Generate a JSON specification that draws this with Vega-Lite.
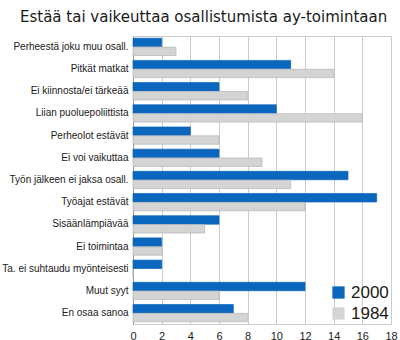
{
  "$schema": "https://vega.github.io/schema/vega-lite/v6.json",
  "autosize": {"type": "none"},
  "width": 258,
  "height": 288,
  "padding": {"left": 133, "top": 36, "right": 9, "bottom": 16},
  "background": "white",
  "title": {
    "text": "Estää tai vaikeuttaa osallistumista ay-toimintaan",
    "anchor": "start",
    "frame": "group",
    "dx": -113,
    "offset": 11,
    "font": "DejaVu Sans",
    "fontSize": 15,
    "fontWeight": "normal",
    "color": "#1a1a1a"
  },
  "data": {
    "values": [
      {"syy": "Perheestä joku muu osall.", "vuosi": "2000", "arvo": 2},
      {"syy": "Perheestä joku muu osall.", "vuosi": "1984", "arvo": 3},
      {"syy": "Pitkät matkat", "vuosi": "2000", "arvo": 11},
      {"syy": "Pitkät matkat", "vuosi": "1984", "arvo": 14},
      {"syy": "Ei kiinnosta/ei tärkeää", "vuosi": "2000", "arvo": 6},
      {"syy": "Ei kiinnosta/ei tärkeää", "vuosi": "1984", "arvo": 8},
      {"syy": "Liian puoluepoliittista", "vuosi": "2000", "arvo": 10},
      {"syy": "Liian puoluepoliittista", "vuosi": "1984", "arvo": 16},
      {"syy": "Perheolot estävät", "vuosi": "2000", "arvo": 4},
      {"syy": "Perheolot estävät", "vuosi": "1984", "arvo": 6},
      {"syy": "Ei voi vaikuttaa", "vuosi": "2000", "arvo": 6},
      {"syy": "Ei voi vaikuttaa", "vuosi": "1984", "arvo": 9},
      {"syy": "Työn jälkeen ei jaksa osall.", "vuosi": "2000", "arvo": 15},
      {"syy": "Työn jälkeen ei jaksa osall.", "vuosi": "1984", "arvo": 11},
      {"syy": "Työajat estävät", "vuosi": "2000", "arvo": 17},
      {"syy": "Työajat estävät", "vuosi": "1984", "arvo": 12},
      {"syy": "Sisäänlämpiävää", "vuosi": "2000", "arvo": 6},
      {"syy": "Sisäänlämpiävää", "vuosi": "1984", "arvo": 5},
      {"syy": "Ei toimintaa", "vuosi": "2000", "arvo": 2},
      {"syy": "Ei toimintaa", "vuosi": "1984", "arvo": 2},
      {"syy": "Ta. ei suhtaudu myönteisesti", "vuosi": "2000", "arvo": 2},
      {"syy": "Ta. ei suhtaudu myönteisesti", "vuosi": "1984", "arvo": 0},
      {"syy": "Muut syyt", "vuosi": "2000", "arvo": 12},
      {"syy": "Muut syyt", "vuosi": "1984", "arvo": 6},
      {"syy": "En osaa sanoa", "vuosi": "2000", "arvo": 7},
      {"syy": "En osaa sanoa", "vuosi": "1984", "arvo": 8}
    ]
  },
  "mark": {"type": "bar", "strokeWidth": 0.7},
  "encoding": {
    "y": {
      "field": "syy",
      "type": "nominal",
      "sort": null,
      "scale": {"paddingInner": 0.22, "paddingOuter": 0.1},
      "axis": {
        "title": null,
        "labelFont": "Liberation Sans",
        "labelFontSize": 10,
        "labelColor": "#1a1a1a",
        "labelPadding": 5,
        "ticks": false,
        "domainColor": "#999999",
        "labelLimit": 200
      }
    },
    "yOffset": {
      "field": "vuosi",
      "type": "nominal",
      "sort": ["2000", "1984"],
      "scale": {"paddingInner": 0.05}
    },
    "x": {
      "field": "arvo",
      "type": "quantitative",
      "scale": {"domain": [0, 18], "nice": false},
      "axis": {
        "title": null,
        "values": [0, 2, 4, 6, 8, 10, 12, 14, 16, 18],
        "labelFont": "Liberation Sans",
        "labelFontSize": 11,
        "labelColor": "#1a1a1a",
        "ticks": false,
        "domain": false,
        "gridColor": "#cccccc",
        "labelPadding": 6,
        "labelFlush": false
      }
    },
    "color": {
      "field": "vuosi",
      "type": "nominal",
      "sort": ["2000", "1984"],
      "scale": {"domain": ["2000", "1984"], "range": ["#0b66be", "#d4d4d4"]},
      "legend": {
        "title": null,
        "orient": "bottom-right",
        "offset": 2,
        "symbolType": "square",
        "symbolSize": 150,
        "symbolStrokeWidth": 0,
        "labelOffset": 4,
        "labelFont": "Liberation Sans",
        "labelFontSize": 17,
        "labelColor": "#1a1a1a",
        "rowPadding": 3
      }
    },
    "stroke": {
      "field": "vuosi",
      "type": "nominal",
      "scale": {"domain": ["2000", "1984"], "range": ["#0b66be", "#b5b5b5"]},
      "legend": null
    }
  },
  "config": {
    "view": {"stroke": "#cccccc"}
  }
}
